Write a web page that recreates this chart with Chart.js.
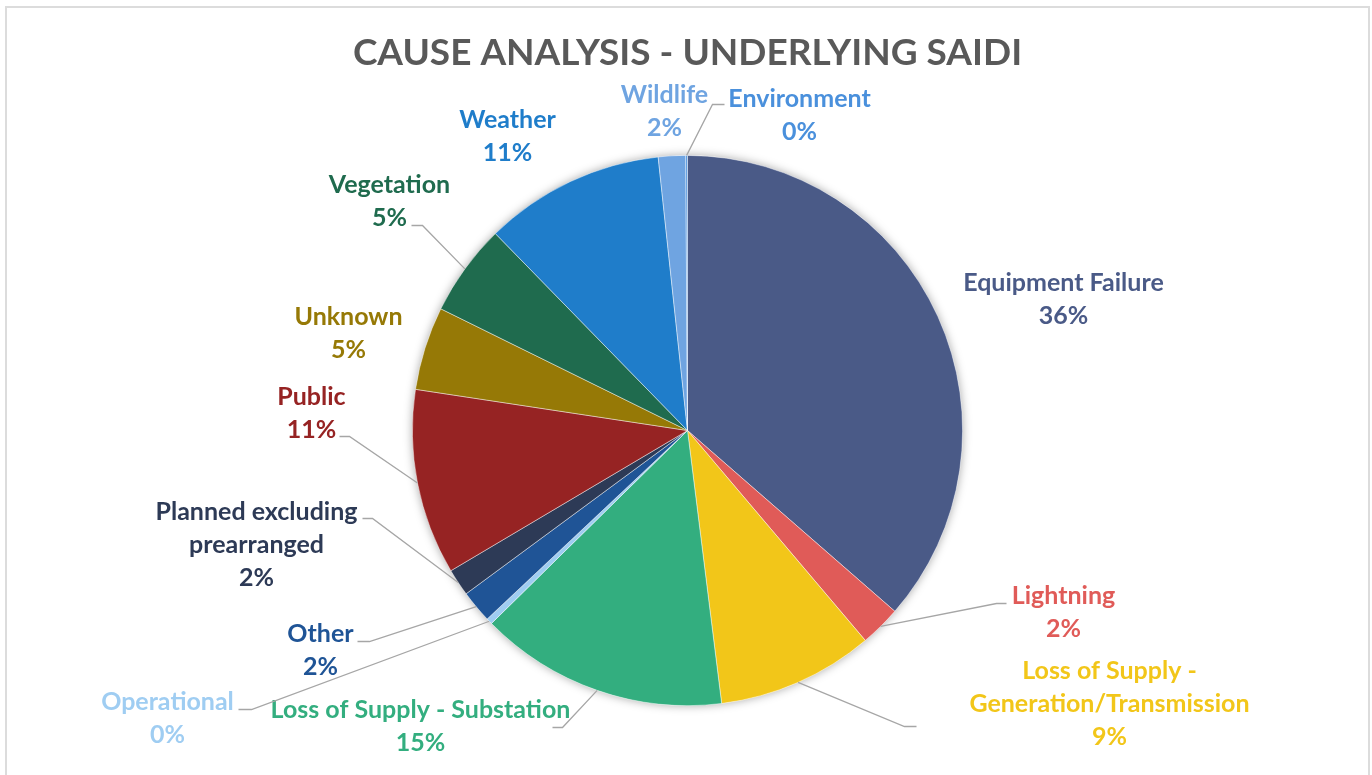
<!DOCTYPE html>
<html>
<head>
<meta charset="utf-8">
<script src="https://cdn.jsdelivr.net/npm/chart.js@4"></script>
<style>
  body { margin: 0; background: #fff; }
  #wrap { position: relative; width: 1372px; height: 775px; overflow: hidden; }
  #frame { position: absolute; left: 5px; top: 6px; width: 1365px; height: 800px;
           box-sizing: border-box; border: 2px solid #dcdcdc; border-bottom: none; }
  #chartCanvas { position: absolute; left: 0; top: 0; }
</style>
</head>
<body>
<div id="wrap">
  <div id="frame"></div>
  <canvas id="chartCanvas"></canvas>
</div>
<script>
// values (share of underlying SAIDI, in %)
var causes = ['Equipment Failure', 'Lightning', 'Loss of Supply - Generation/Transmission',
  'Loss of Supply - Substation', 'Operational', 'Other', 'Planned excluding prearranged',
  'Public', 'Unknown', 'Vegetation', 'Weather', 'Wildlife', 'Environment'];
var shares = [36.4, 2.4, 9.2, 14.6, 0.36, 1.9, 1.6, 10.9, 4.9, 5.4, 10.6, 1.6, 0.1];
var sliceColors = ['#4a5a87', '#e05b58', '#f2c619', '#33ae7f', '#9fcdf2', '#1f5496', '#2d3a56',
  '#962323', '#967906', '#1f6b4e', '#1f7dca', '#6fa4e1', '#4a90dc'];
var chartTitle = 'CAUSE ANALYSIS - UNDERLYING SAIDI';

// label placement relative to pie centre: text centre x, first line y, leader (hx,ex,y) or null
var labelPlace = [
  { lines: ['Equipment Failure'], tx: 376, ty: -148, lead: null },
  { lines: ['Lightning'], tx: 376, ty: 165, lead: [319, 309, 173] },
  { lines: ['Loss of Supply -', 'Generation/Transmission'], tx: 422, ty: 240, lead: [229, 217, 296] },
  { lines: ['Loss of Supply - Substation'], tx: -267, ty: 279, lead: [-135, -125, 297] },
  { lines: ['Operational'], tx: -520, ty: 271, lead: [-449, -436, 279] },
  { lines: ['Other'], tx: -367, ty: 203, lead: [-330, -318, 211] },
  { lines: ['Planned excluding', 'prearranged'], tx: -431, ty: 81, lead: [-325, -315, 88] },
  { lines: ['Public'], tx: -376, ty: -34, lead: [-348, -338, 6] },
  { lines: ['Unknown'], tx: -339, ty: -114, lead: null },
  { lines: ['Vegetation'], tx: -298, ty: -246, lead: [-276, -265, -205] },
  { lines: ['Weather'], tx: -180, ty: -311, lead: null },
  { lines: ['Wildlife'], tx: -23, ty: -336, lead: null },
  { lines: ['Environment'], tx: 112, ty: -332, lead: [37, 25, -326] }
];

var FONT = 'Lato, "Open Sans", sans-serif';

// soft shadow under the pie
var pieShadow = {
  id: 'pieShadow',
  beforeDatasetsDraw: function (chart) {
    var arc = chart.getDatasetMeta(0).data[0];
    if (!arc) return;
    var p = arc.getProps(['x', 'y', 'outerRadius'], true);
    var ctx = chart.ctx;
    ctx.save();
    ctx.shadowColor = 'rgba(0,0,0,0.35)';
    ctx.shadowBlur = 10;
    ctx.fillStyle = '#ffffff';
    ctx.beginPath();
    ctx.arc(p.x, p.y, p.outerRadius, 0, Math.PI * 2);
    ctx.fill();
    ctx.restore();
  }
};

// title drawn by hand, centred over the pie
var pieTitle = {
  id: 'pieTitle',
  afterDraw: function (chart) {
    var arc = chart.getDatasetMeta(0).data[0];
    var cx = arc ? arc.x : chart.width / 2;
    var ctx = chart.ctx;
    ctx.save();
    ctx.font = 'bold 37px ' + FONT;
    ctx.fillStyle = '#595959';
    ctx.textAlign = 'center';
    ctx.textBaseline = 'alphabetic';
    ctx.fillText(chartTitle, cx, 65);
    ctx.restore();
  }
};

// outside labels with leader lines
var outsideLabels = {
  id: 'outsideLabels',
  afterDatasetsDraw: function (chart) {
    var ctx = chart.ctx;
    var meta = chart.getDatasetMeta(0);
    var data = chart.data.datasets[0].data;
    var total = data.reduce(function (a, b) { return a + b; }, 0);
    meta.data.forEach(function (arc, i) {
      var p = arc.getProps(['x', 'y', 'startAngle', 'endAngle', 'outerRadius'], true);
      var place = labelPlace[i];
      var mid = (p.startAngle + p.endAngle) / 2;
      ctx.save();
      if (place.lead) {
        ctx.strokeStyle = '#a6a6a6';
        ctx.lineWidth = 1.3;
        ctx.beginPath();
        ctx.moveTo(p.x + Math.cos(mid) * p.outerRadius, p.y + Math.sin(mid) * p.outerRadius);
        ctx.lineTo(p.x + place.lead[1], p.y + place.lead[2]);
        ctx.lineTo(p.x + place.lead[0], p.y + place.lead[2]);
        ctx.stroke();
      }
      var lines = place.lines.concat([Math.round(data[i] / total * 100) + '%']);
      ctx.fillStyle = sliceColors[i];
      ctx.font = 'bold 25px ' + FONT;
      ctx.textAlign = 'center';
      ctx.textBaseline = 'middle';
      lines.forEach(function (t, k) {
        ctx.fillText(t, p.x + place.tx, p.y + place.ty + k * 33);
      });
      ctx.restore();
    });
  }
};

var canvas = document.getElementById('chartCanvas');
canvas.width = 1372;
canvas.height = 775;
var ctx = canvas.getContext('2d');

var graph = new Chart(ctx, {
  type: 'pie',
  data: {
    labels: causes,
    datasets: [{
      data: shares,
      backgroundColor: sliceColors,
      borderColor: 'rgba(255,255,255,0.55)',
      borderWidth: 0.8
    }]
  },
  options: {
    responsive: false,
    animation: false,
    layout: { padding: { top: 155, left: 412, right: 409, bottom: 69 } },
    plugins: {
      legend: { display: false },
      tooltip: { enabled: false },
      title: { display: false }
    }
  },
  plugins: [pieShadow, outsideLabels, pieTitle]
});
</script>
</body>
</html>
